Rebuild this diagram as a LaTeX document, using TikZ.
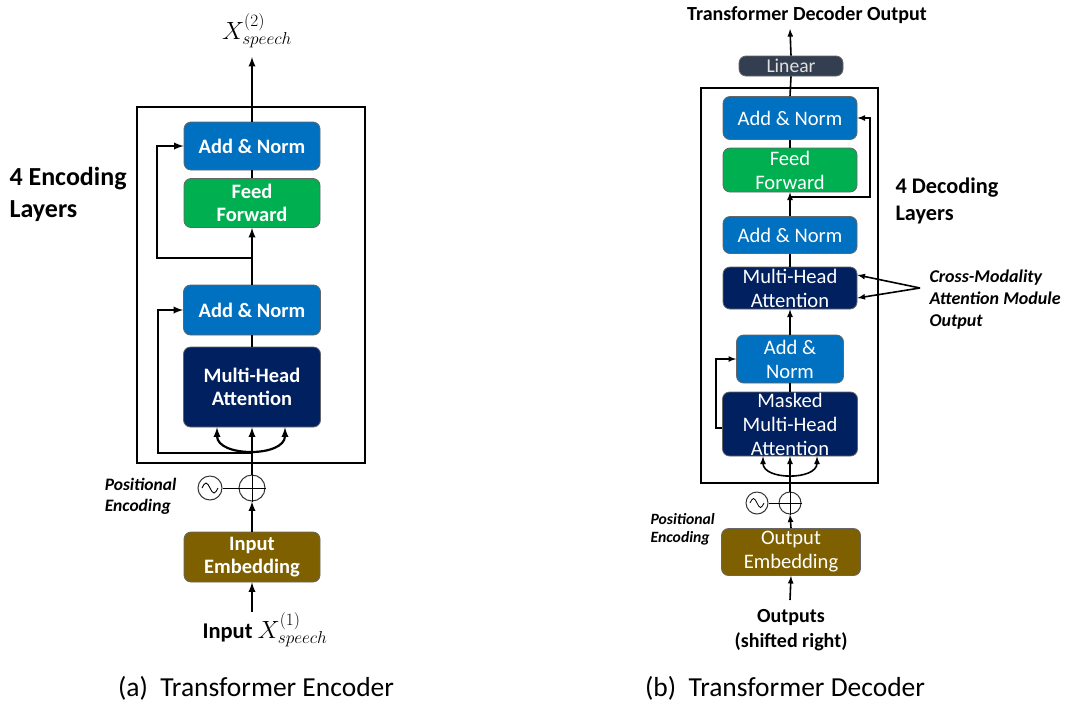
\documentclass[tikz,border=0pt]{standalone}
\usepackage[no-math]{fontspec}
\setmainfont{Carlito}
\usetikzlibrary{arrows,shapes,positioning,calc}

\definecolor{normblue}{HTML}{0070C0}
\definecolor{ffgreen}{HTML}{00B050}
\definecolor{attnavy}{HTML}{002060}
\definecolor{embbrown}{HTML}{7F6000}
\definecolor{linslate}{HTML}{333F50}

\tikzset{
  blk/.style={draw=black!60, line width=0.8pt, rounded corners=7pt, text=white,
    align=center, inner sep=0pt},
  eblk/.style={blk, font=\bfseries\fontsize{20.5}{23.5}\selectfont},
  dblk/.style={blk, font=\fontsize{20.6}{24}\selectfont},
  layerbox/.style={draw, line width=2pt},
  eflow/.style={->, >=latex, line width=2.2pt},
  eline/.style={line width=2.2pt},
  dflow/.style={->, >=latex, line width=1.6pt},
  dline/.style={line width=1.6pt},
  posenc/.style={circle, draw=black!80, line width=1pt, inner sep=0pt},
}

\begin{document}
\begin{tikzpicture}[x=1pt, y=-1pt]
      \useasboundingbox (0,0) rectangle (1067,702);

      % encoder
      \node[layerbox, minimum width=228, minimum height=356] (elayers) at (251,285) {};
      \node[eblk, fill=normblue, minimum width=136, minimum height=48] (enorm2) at (252,146) {Add \& Norm};
      \node[eblk, fill=ffgreen, minimum width=136, minimum height=49] (eff) at (252,203) {Feed\\Forward};
      \node[eblk, fill=normblue, minimum width=137, minimum height=50] (enorm1) at (252,310) {Add \& Norm};
      \node[eblk, fill=attnavy, minimum width=137, minimum height=80] (emha) at (252,387) {Multi-Head\\Attention};
      \node[posenc, minimum size=26] (eplus) at (252,488) {};
      \node[posenc, minimum size=24] (esin) at (210,488) {};
      \node[eblk, fill=embbrown, minimum width=136, minimum height=50] (eemb) at (252,557) {Input\\Embedding};
      \coordinate (ein) at (252,612);
      \coordinate (eout) at (252,57);
      \coordinate (eres2) at (252,258);
      \coordinate (eres1) at (252,453);

      \node[font=\fontsize{27}{30}\selectfont] (eoutlbl) at (257,31) {$X^{(2)}_{speech}$};
      \node[font=\fontsize{27}{30}\selectfont] (einlbl) at (265,630) {\fontsize{22.5}{26}\selectfont\textbf{Input} \fontsize{27}{30}\selectfont$X^{(1)}_{speech}$};
      \node[anchor=west, align=left, font=\bfseries\fontsize{26}{32}\selectfont] (elayerlbl) at (6,194) {4 Encoding\\Layers};
      \node[anchor=east, align=left, font=\bfseries\itshape\fontsize{17.5}{21}\selectfont] (epos) at (180,496) {Positional\\Encoding};
      \node[font=\fontsize{27.5}{30}\selectfont] (ecap) at (256,688) {(a)~~Transformer Encoder};

      \draw[eflow] (ein) -- (eemb.south);
      \draw[eflow] (eemb.north) -- (eplus.south);
      \draw[eflow] (eplus.north) -- (emha.south);
      \draw[eflow, <->] ($(emha.south)+(-35,0)$) .. controls +(0,30) and +(0,30) .. ($(emha.south)+(33,0)$);
      \draw[eflow] (eres1) -- ++(-94,0) |- (enorm1.west);
      \draw[eline] (emha.north) -- (enorm1.south);
      \draw[eflow] (enorm1.north) -- (eff.south);
      \draw[eflow] (eres2) -- ++(-95,0) |- (enorm2.west);
      \draw[eline] (eff.north) -- (enorm2.south);
      \draw[eflow] (enorm2.north) -- (eout);
      \draw[line width=1pt] (eplus.north) -- (eplus.south) (eplus.west) -- (eplus.east);
      \draw[line width=1pt] (esin.east) -- (eplus.west);
      \draw[line width=0.9pt] ($(esin)+(-8,0)$) sin ++(4,-5) cos ++(4,5) sin ++(4,5) cos ++(4,-5);

      % decoder
      \node[layerbox, minimum width=177, minimum height=395] (dlayers) at (789.5,285.5) {};
      \node[blk, fill=linslate, text=black!12, font=\fontsize{19.6}{22}\selectfont, minimum width=104, minimum height=20] (dlin) at (791,66) {Linear};
      \node[dblk, fill=normblue, minimum width=134, minimum height=43] (dnorm3) at (790,118) {Add \& Norm};
      \node[dblk, fill=ffgreen, minimum width=134, minimum height=44] (dff) at (790,170) {Feed\\Forward};
      \node[dblk, fill=normblue, minimum width=134, minimum height=37] (dnorm2) at (790,235) {Add \& Norm};
      \node[dblk, fill=attnavy, minimum width=134, minimum height=42] (dmha) at (790,288) {Multi-Head\\Attention};
      \node[dblk, fill=normblue, minimum width=107, minimum height=48] (dnorm1) at (790,359) {Add \&\\Norm};
      \node[dblk, fill=attnavy, minimum width=135, minimum height=64] (dmmha) at (790,424) {Masked\\Multi-Head\\Attention};
      \node[posenc, minimum size=22] (dplus) at (790,503) {};
      \node[posenc, minimum size=22] (dsin) at (757,503) {};
      \node[dblk, fill=embbrown, minimum width=139, minimum height=47] (demb) at (791,552) {Output\\Embedding};
      \coordinate (din) at (790,600);
      \coordinate (dout) at (790,29);
      \coordinate (dres) at (790,197);
      \coordinate (dcross) at (920,288);

      \node[font=\bfseries\fontsize{20}{23}\selectfont] (dtitle) at (807,15) {Transformer Decoder Output};
      \node[align=center, font=\bfseries\fontsize{20}{25}\selectfont] (dinlbl) at (791,630) {Outputs\\(shifted right)};
      \node[anchor=west, align=left, font=\bfseries\fontsize{22.3}{27}\selectfont] (dlayerlbl) at (892,201) {4 Decoding\\Layers};
      \node[anchor=west, align=left, font=\bfseries\itshape\fontsize{18}{22}\selectfont] (dcrosslbl) at (926,300) {Cross-Modality\\Attention Module\\Output};
      \node[anchor=west, align=left, font=\bfseries\itshape\fontsize{15.7}{18}\selectfont] (dpos) at (647,529) {Positional\\Encoding};
      \node[font=\fontsize{27.5}{30}\selectfont] (dcap) at (785,688) {(b)~~Transformer Decoder};

      \draw[dflow] (din) -- (demb.south);
      \draw[dflow] (demb.north) -- (dplus.south);
      \draw[dflow] (dplus.north) -- (dmmha.south);
      \draw[dflow, <->] ($(dmmha.south)+(-27,0)$) .. controls +(0,24) and +(0,24) .. ($(dmmha.south)+(27,0)$);
      \draw[dflow] ($(dmmha.west)+(0,4)$) -- ++(-6,0) |- (dnorm1.west);
      \draw[dline] (dmmha.north) -- (dnorm1.south);
      \draw[dflow] (dnorm1.north) -- (dmha.south);
      \draw[dline] (dmha.north) -- (dnorm2.south);
      \draw[dflow] (dnorm2.north) -- (dff.south);
      \draw[dflow] (dres) -- ++(80,0) |- (dnorm3.east);
      \draw[dline] (dff.north) -- (dnorm3.south);
      \draw[dline] (dnorm3.north) -- (dlin.south);
      \draw[dflow] (dlin.north) -- (dout);
      \draw[dflow] (dcross) -- ($(dmha.east)+(0,-13)$);
      \draw[dflow] (dcross) -- ($(dmha.east)+(0,10)$);
      \draw[line width=0.9pt] (dplus.north) -- (dplus.south) (dplus.west) -- (dplus.east);
      \draw[line width=0.9pt] (dsin.east) -- (dplus.west);
      \draw[line width=0.8pt] ($(dsin)+(-7,0)$) sin ++(3.5,-4.5) cos ++(3.5,4.5) sin ++(3.5,4.5) cos ++(3.5,-4.5);
\end{tikzpicture}
\end{document}
